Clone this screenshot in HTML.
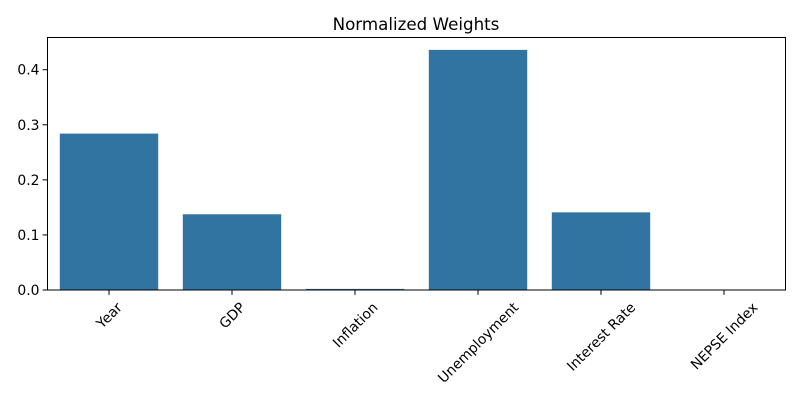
<!DOCTYPE html>
<html><head><meta charset="utf-8"><style>
body{margin:0;background:#fff;}
svg text{font-family:"DejaVu Sans","Liberation Sans",sans-serif;font-size:13.9px;fill:#000;}
</style></head><body>
<svg width="800" height="400">
<text x="416" y="30" text-anchor="middle" style="font-size:16.7px">Normalized Weights</text>
<g id="bars"></g><g id="yax"></g><g id="xax"></g>
<rect x="47.5" y="37.5" width="738" height="252.5" fill="none" stroke="#000" stroke-width="1"/>
</svg>
<script>
const categories=["Year","GDP","Inflation","Unemployment","Interest Rate","NEPSE Index"];
const values=[0.284,0.1375,0.002,0.436,0.141,0.0005];
const yTicks=[0,0.1,0.2,0.3,0.4];
const yTickLabels=["0.0","0.1","0.2","0.3","0.4"];
const L=47.5,R=785.5,T=37.5,B=290,ymax=0.4585;
const ns="http://www.w3.org/2000/svg";
const y=v=>B-(v/ymax)*(B-T);
const step=(R-L)/categories.length;
const xc=i=>L+step*(i+0.5);
function mk(t,a,p){const e=document.createElementNS(ns,t);for(const k in a)e.setAttribute(k,a[k]);p.appendChild(e);return e;}
const gb=document.getElementById('bars'),gy=document.getElementById('yax'),gx=document.getElementById('xax');
values.forEach((v,i)=>{
 const r=mk('rect',{x:xc(i)-step*0.4,y:y(v),width:step*0.8,height:B-y(v),fill:'#3274a1'},gb);
 
 
 const tk=mk('line',{x1:xc(i),x2:xc(i),y1:B,y2:B+4.9,stroke:'#000'},gx);
 
 
 const t=mk('text',{x:0,y:0,'text-anchor':'middle'},gx);
 t.textContent=categories[i];
 
 
 const w=t.getComputedTextLength(),h=14;
 const cy=B+9.8+(w+h)*Math.SQRT1_2/2;
 t.setAttribute('x',xc(i));t.setAttribute('y',cy+5);
 t.setAttribute('transform',`rotate(-45 ${xc(i)} ${cy})`);
});
yTicks.forEach((v,i)=>{
 const tk=mk('line',{x1:L-4.9,x2:L,y1:y(v),y2:y(v),stroke:'#000'},gy);
 
 
 const t=mk('text',{x:L-8,y:y(v)+5,'text-anchor':'end'},gy);
 t.textContent=yTickLabels[i];
 
 
});
</script>
</body></html>
